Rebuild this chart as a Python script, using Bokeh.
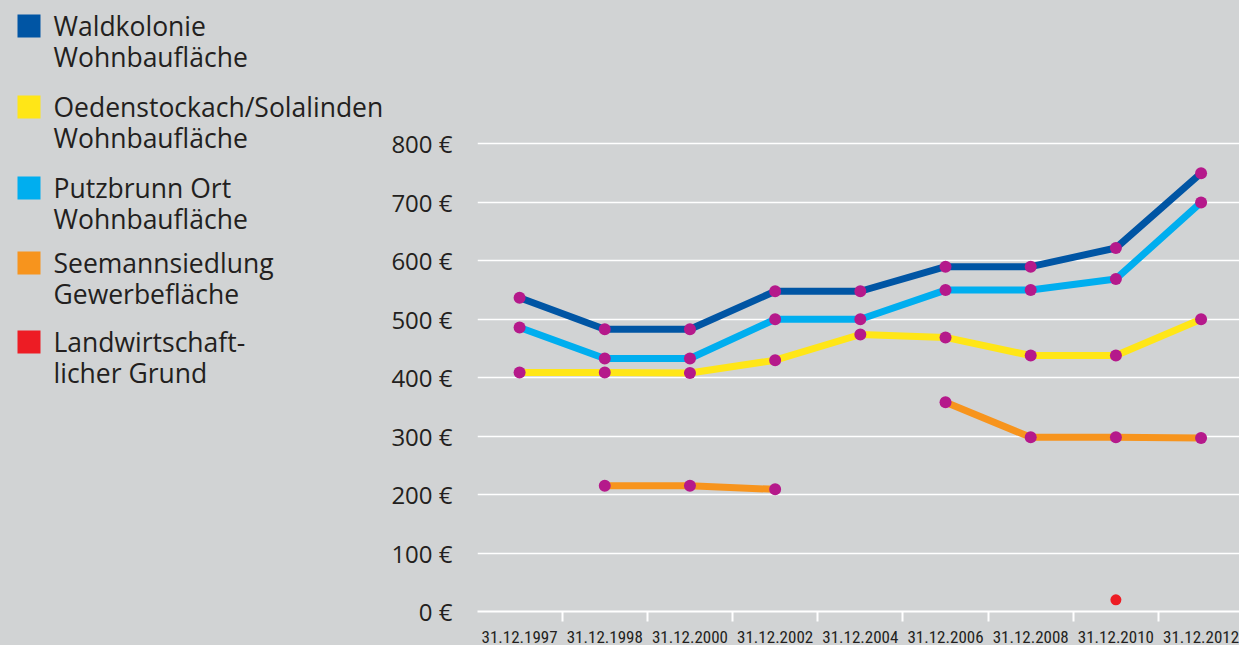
import math
from bokeh.plotting import figure
from bokeh.models import Range1d, FixedTicker
from bokeh.layouts import row
from bokeh.core.properties import value
from bokeh.embed import file_html
from bokeh.resources import INLINE

nan = float("nan")

# ---------------- data ----------------
dates = ["31.12.1997", "31.12.1998", "31.12.2000", "31.12.2002", "31.12.2004",
         "31.12.2006", "31.12.2008", "31.12.2010", "31.12.2012"]
waldkolonie = [537, 483, 483, 548, 548, 590, 590, 622, 750]
oedenstockach = [409, 409, 408, 430, 474, 469, 438, 438, 500]
putzbrunn = [486, 433, 433, 500, 500, 550, 550, 569, 700]
seemannsiedlung = [nan, 215, 215, 209, nan, 358, 298, 298, 297]
landwirtschaft = [nan, nan, nan, nan, nan, nan, nan, 20, nan]
y_ticks = [0, 100, 200, 300, 400, 500, 600, 700, 800]

legend_line1 = ["Waldkolonie", "Oedenstockach/Solalinden", "Putzbrunn Ort",
                "Seemannsiedlung", "Landwirtschaft-"]
legend_line2 = ["Wohnbaufläche", "Wohnbaufläche", "Wohnbaufläche",
                "Gewerbefläche", "licher Grund"]

# ---------------- styles ----------------
BG = "#d1d3d4"
TXT = "#231f20"
C_DARK = "#0055a4"
C_YEL = "#ffe617"
C_LIGHT = "#00aeef"
C_ORG = "#f7941d"
C_RED = "#ed1c24"
C_DOT = "#b5198b"
colors = [C_DARK, C_YEL, C_LIGHT, C_ORG, C_RED]

H = 645
TOTAL_W = 1239
BOTTOM = 34
FRAME_H = H - BOTTOM

# ---------------- legend figure ----------------
LW = 388
lg = figure(width=LW, height=H, x_range=Range1d(0, LW), y_range=Range1d(FRAME_H, 0),
            output_backend="svg", toolbar_location=None, min_border=0,
            min_border_bottom=BOTTOM,
            x_axis_location=None, y_axis_location=None)
lg.grid.visible = False
lg.outline_line_color = None
lg.background_fill_color = None
lg.border_fill_color = BG

sq_y = [25.5, 106.5, 187.5, 262.5, 341.5]   # square centres (px)
text_y1 = [y - 0.5 for y in sq_y]           # first line centre
lg.rect(x=[28.5] * 5, y=sq_y, width=23, height=23, fill_color=colors, line_color=None)
lg.text(x=[53] * 5, y=[y - 10 + 9.5 for y in sq_y], text=legend_line1, text_font=value("Open Sans"),
        text_font_size="26.5px", text_color=TXT, text_baseline="alphabetic", text_align="left")
lg.text(x=[53] * 5, y=[y - 10 + 9.5 + 31.5 for y in sq_y], text=legend_line2, text_font=value("Open Sans"),
        text_font_size="26.5px", text_color=TXT, text_baseline="alphabetic", text_align="left")

# ---------------- main figure ----------------
MW = TOTAL_W - LW
p = figure(width=MW, height=H, x_range=Range1d(-0.494, 8.451), y_range=Range1d(0, 1045.5),
           output_backend="svg", toolbar_location=None,
           min_border_left=88, min_border_right=0, min_border_top=0, min_border_bottom=BOTTOM)
p.outline_line_color = None
p.background_fill_color = None
p.border_fill_color = BG

x = list(range(len(dates)))
series = [waldkolonie, putzbrunn, oedenstockach, seemannsiedlung]
scol = [C_DARK, C_LIGHT, C_YEL, C_ORG]
for ys, c in zip(series, scol):
    p.line(x=x, y=ys, line_color=c, line_width=7, line_join="round")
for ys in series:
    p.scatter(x=x, y=ys, size=12, fill_color=C_DOT, line_color=None)
p.scatter(x=x, y=landwirtschaft, size=11, fill_color=C_RED, line_color=None)

# x axis
xa = p.xaxis[0]
xa.ticker = FixedTicker(ticks=x, minor_ticks=[i + 0.5 for i in range(len(dates) - 1)])
xa.major_label_overrides = {i: d for i, d in enumerate(dates)}
xa.axis_line_color = "white"
xa.axis_line_width = 2
xa.major_tick_out = 0
xa.major_tick_in = 0
xa.major_tick_line_color = None
xa.minor_tick_out = 10
xa.minor_tick_in = 0
xa.minor_tick_line_color = "white"
xa.minor_tick_line_width = 2
xa.major_label_standoff = 9
xa.major_label_text_font = "Roboto Condensed"
xa.major_label_text_font_size = "17px"
xa.major_label_text_color = TXT

# y axis
ya = p.yaxis[0]
ya.ticker = FixedTicker(ticks=y_ticks)
ya.major_label_overrides = {v: f"{v} €" for v in y_ticks}
ya.axis_line_color = None
ya.major_tick_line_color = None
ya.major_tick_out = 0
ya.major_tick_in = 0
ya.minor_tick_line_color = None
ya.minor_tick_out = 0
ya.minor_tick_in = 0
ya.major_label_standoff = 25
ya.major_label_text_font = "Open Sans"
ya.major_label_text_font_size = "24px"
ya.major_label_text_color = TXT

p.xgrid.visible = False
p.ygrid.grid_line_color = "white"
p.ygrid.grid_line_width = 1.5

layout = row(lg, p)
layout.styles = {"background-color": BG}
html = file_html(layout, INLINE)
html = html.replace("<body>", '<body style="background-color: #d1d3d4;">')
open("out.html", "w").write(html)
